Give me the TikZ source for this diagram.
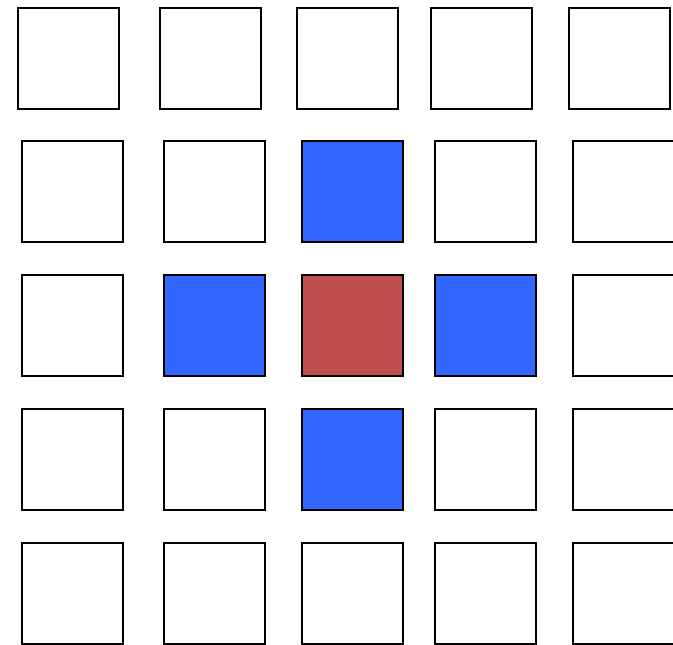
\documentclass[tikz,border=0pt]{standalone}
\begin{document}
\begin{tikzpicture}[x=1pt,y=-1pt,
  cell/.style={draw=black, line width=2pt, minimum size=101pt, inner sep=0pt, fill=white},
  blue cell/.style={cell, fill=cellblue},
  red cell/.style={cell, fill=cellred}]
\definecolor{cellblue}{HTML}{3366FF}
\definecolor{cellred}{HTML}{C0504D}
\useasboundingbox (0,0) rectangle (673,645);
% row 1
\node[cell] (r1c1) at (68,58) {};
\node[cell] (r1c2) at (210.5,58) {};
\node[cell] (r1c3) at (347.5,58) {};
\node[cell] (r1c4) at (481.5,58) {};
\node[cell] (r1c5) at (619,58) {};
% row 2
\node[cell] (r2c1) at (72.5,191.5) {};
\node[cell] (r2c2) at (214.5,191.5) {};
\node[blue cell] (r2c3) at (352.5,191.5) {};
\node[cell] (r2c4) at (485.5,191.5) {};
\node[cell] (r2c5) at (623.5,191.5) {};
% row 3
\node[cell] (r3c1) at (72.5,325) {};
\node[blue cell] (r3c2) at (214.5,325) {};
\node[red cell] (r3c3) at (352.5,325) {};
\node[blue cell] (r3c4) at (485.5,325) {};
\node[cell] (r3c5) at (623.5,325) {};
% row 4
\node[cell] (r4c1) at (72.5,459.5) {};
\node[cell] (r4c2) at (214.5,459.5) {};
\node[blue cell] (r4c3) at (352.5,459.5) {};
\node[cell] (r4c4) at (485.5,459.5) {};
\node[cell] (r4c5) at (623.5,459.5) {};
% row 5
\node[cell] (r5c1) at (72.5,593.5) {};
\node[cell] (r5c2) at (214.5,593.5) {};
\node[cell] (r5c3) at (352.5,593.5) {};
\node[cell] (r5c4) at (485.5,593.5) {};
\node[cell] (r5c5) at (623.5,593.5) {};
\end{tikzpicture}
\end{document}
